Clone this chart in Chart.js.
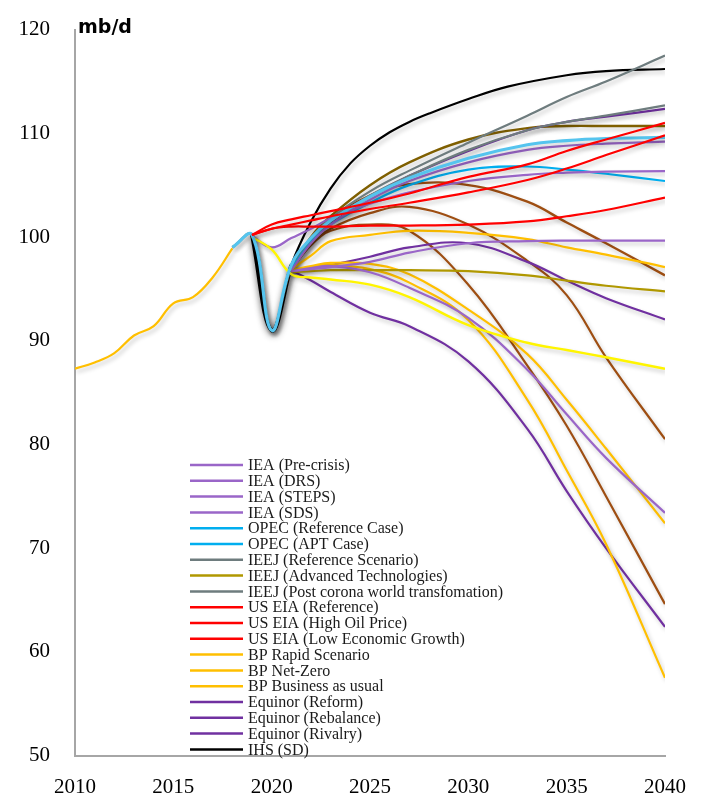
<!DOCTYPE html>
<html>
<head>
<meta charset="utf-8">
<script src="https://cdn.jsdelivr.net/npm/chart.js@4.4.1/dist/chart.umd.min.js"></script>
<style>
html, body { margin: 0; padding: 0; background: #fff; }
#wrap { width: 706px; height: 799px; position: relative; }
</style>
</head>
<body>
<div id="wrap"><canvas id="c"></canvas></div>
<script>
// history (2010-2018)
const histYears = [2010, 2011, 2012, 2013, 2014, 2015, 2016, 2017, 2018];
const history = [87.3, 87.9, 88.8, 90.5, 91.4, 93.6, 94.2, 96.1, 98.9];

// projection years
const years = [2018, 2019, 2020, 2021, 2022, 2023, 2025, 2027, 2030, 2033, 2035, 2037, 2040];

const ieaPreCrisis = [null, 100.1, 99.0, 99.9, 100.8, 101.8, 103.2, 104.3, 105.4, 106.0, 106.2, 106.3, 106.35];
const ieaDrs = [null, null, null, 96.7, 96.9, 97.1, 97.6, 98.5, 99.4, 99.6, 99.65, 99.65, 99.65];
const ieaSteps = [null, null, null, 96.8, 99.4, 101.2, 103.6, 105.4, 107.2, 108.4, 108.8, 109.0, 109.2];
const ieaSds = [null, null, null, 96.7, 97.0, 97.2, 96.6, 95.1, 92.2, 87.2, 82.9, 78.7, 73.4];
const opecRef = [99.0, 100.2, 91.0, 97.3, 99.9, 101.6, 103.9, 105.7, 107.6, 108.9, 109.3, 109.5, 109.6];
const opecApt = [null, null, null, 97.0, 99.5, 101.2, 103.3, 105.0, 106.5, 106.8, 106.5, 106.1, 105.4];
const ieejRef = [null, null, null, 96.9, 99.6, 101.5, 104.0, 105.9, 108.4, 110.3, 111.1, 111.7, 112.7];
const ieejAdv = [null, null, null, 96.6, 96.7, 96.8, 96.8, 96.8, 96.7, 96.3, 95.8, 95.3, 94.75];
const ieejPost = [null, null, null, 97.0, 99.8, 101.8, 104.4, 106.4, 109.1, 111.7, 113.5, 115.0, 117.5];
const eiaRef = [null, 100.2, 100.8, 101.2, 101.6, 102.0, 102.7, 103.3, 104.3, 105.5, 106.6, 107.9, 109.8];
const eiaHighPrice = [null, 100.2, 101.2, 101.7, 102.1, 102.5, 103.3, 104.2, 105.8, 107.0, 108.3, 109.4, 111.0];
const eiaLowGrowth = [null, 100.2, 100.8, 101.0, 101.0, 101.0, 101.1, 101.1, 101.2, 101.5, 102.0, 102.6, 103.8];
const bpRapid = [null, null, null, 96.8, 97.2, 97.5, 97.4, 96.4, 93.0, 88.7, 84.3, 79.6, 72.4];
const bpNetZero = [null, null, null, 96.7, 97.1, 97.3, 96.9, 95.6, 92.0, 84.3, 77.5, 70.4, 57.5];
const bpBau = [null, null, null, 96.9, 98.2, 99.6, 100.2, 100.6, 100.4, 99.8, 99.0, 98.3, 97.1];
const equinorReform = [null, null, null, 96.7, 97.0, 97.3, 98.1, 99.0, 99.4, 97.6, 95.8, 94.1, 92.05];
const equinorRebalance = [null, null, null, 96.8, 95.8, 94.7, 92.7, 91.4, 88.0, 81.5, 75.5, 70.0, 62.4];
const equinorRivalry = [null, null, null, 96.9, 99.5, 101.4, 103.9, 105.9, 108.3, 110.3, 111.1, 111.6, 112.35];

// IHS is read on a finer grid (steep early rise)
const ihsYears = [2019, 2020, 2021, 2022, 2023, 2024, 2025, 2026, 2027, 2028, 2030, 2032, 2035, 2037, 2040];
const ihsSd = [100.2, 91.0, 97.3, 101.5, 104.7, 107.1, 108.8, 110.1, 111.1, 111.9, 113.3, 114.5, 115.6, 116.0, 116.2];

// lines without a legend entry
const brownA = [99.0, 100.2, 91.0, 97.0, 99.9, 101.7, 104.0, 105.1, 105.0, 103.4, 101.4, 99.4, 96.3];
const brownB = [null, null, null, 96.9, 99.3, 100.8, 102.3, 102.9, 101.2, 97.7, 94.4, 88.4, 80.5];
const brownC = [null, null, null, 96.9, 99.2, 100.6, 101.2, 100.6, 95.4, 87.6, 81.8, 75.0, 64.6];
const darkOlive = [null, null, null, 97.0, 100.0, 102.0, 105.0, 107.2, 109.4, 110.5, 110.7, 110.7, 110.7];
const yellowLine = [null, 100.0, 98.8, 96.4, 96.1, 95.9, 95.4, 94.2, 91.5, 89.8, 89.1, 88.4, 87.3];
const dipGlow = [null, 100.2, 91.0, 97.3, null, null, null, null, null, null, null, null, null];

const xTicks = [2010, 2015, 2020, 2025, 2030, 2035, 2040];
const yTicks = [50, 60, 70, 80, 90, 100, 110, 120];

const legendNames = [
  'IEA (Pre-crisis)', 'IEA (DRS)', 'IEA (STEPS)', 'IEA (SDS)',
  'OPEC (Reference Case)', 'OPEC (APT Case)',
  'IEEJ (Reference Scenario)', 'IEEJ (Advanced Technologies)', 'IEEJ (Post corona world transfomation)',
  'US EIA (Reference)', 'US EIA (High Oil Price)', 'US EIA (Low Economic Growth)',
  'BP Rapid Scenario', 'BP Net-Zero', 'BP Business as usual',
  'Equinor (Reform)', 'Equinor (Rebalance)', 'Equinor (Rivalry)',
  'IHS (SD)'
];
const legendSeries = [
  ieaPreCrisis, ieaDrs, ieaSteps, ieaSds,
  opecRef, opecApt,
  ieejRef, ieejAdv, ieejPost,
  eiaRef, eiaHighPrice, eiaLowGrowth,
  bpRapid, bpNetZero, bpBau,
  equinorReform, equinorRebalance, equinorRivalry,
  ihsSd
];

const PURPLE_L = '#9A66C8', CYAN = '#00AEEF', LBLUE = '#55C4EE', GREY = '#6E7C7E',
      OLIVE = '#B09800', RED = '#FF0000', ORANGE = '#FFBF00', PURPLE_D = '#7030A0',
      BROWN = '#9E4E12', DOLIVE = '#7F5F00', YELLOW = '#FFF500';

const legendColors = [
  PURPLE_L, PURPLE_L, PURPLE_L, PURPLE_L,
  CYAN, CYAN,
  GREY, OLIVE, GREY,
  RED, RED, RED,
  ORANGE, ORANGE, ORANGE,
  PURPLE_D, PURPLE_D, PURPLE_D,
  '#000000'
];
// line colour in the plot where it differs from the legend swatch
const plotColors = legendColors.slice();
plotColors[4] = LBLUE;

const pts = (xs, vals) => vals.map((v, i) => ({ x: xs[i], y: v })).filter(p => p.y !== null);

const mk = (label, data, color, width, order, shadow) => ({
  label: label,
  data: data,
  borderColor: color,
  borderWidth: width,
  pointRadius: 0,
  fill: false,
  tension: 0.4,
  order: order,
  shadow: shadow
});

const datasets = [];
datasets.push(mk('glow', pts(years, dipGlow), '#000', 4, 50, 'glow'));
datasets.push(mk('history', pts(histYears, history), ORANGE, 2.2, 10, 'soft'));
datasets.push(mk('brownA', pts(years, brownA), BROWN, 2.4, 9, 'soft'));
datasets.push(mk('brownB', pts(years, brownB), BROWN, 2.2, 9, 'soft'));
datasets.push(mk('brownC', pts(years, brownC), BROWN, 2.2, 9, 'soft'));
datasets.push(mk('darkOlive', pts(years, darkOlive), DOLIVE, 2.4, 8, 'soft'));
datasets.push(mk('yellow', pts(years, yellowLine), YELLOW, 2.4, 2, 'soft'));
legendSeries.forEach((vals, i) => {
  let w = 2.2, ord = 5;
  if (i === 4) { w = 3.2; ord = 1; }
  if (legendColors[i] === RED) ord = 0;
  const xs = vals === ihsSd ? ihsYears : years;
  datasets.push(mk(legendNames[i], pts(xs, vals), plotColors[i], w, ord, 'soft'));
});

const shadowPlugin = {
  id: 'shadowPlugin',
  beforeDatasetDraw(chart, args) {
    const ds = chart.data.datasets[args.index];
    const ctx = chart.ctx;
    ctx.save();
    if (ds.shadow === 'glow') {
      ctx.shadowColor = 'rgba(0,0,0,0.85)';
      ctx.shadowBlur = 7;
      ctx.shadowOffsetX = 1;
      ctx.shadowOffsetY = 2;
    } else {
      ctx.shadowColor = 'rgba(0,0,0,0.22)';
      ctx.shadowBlur = 4;
      ctx.shadowOffsetX = 2;
      ctx.shadowOffsetY = 3;
    }
  },
  afterDatasetDraw(chart) {
    chart.ctx.restore();
  }
};

const legendPlugin = {
  id: 'legendPlugin',
  afterDraw(chart) {
    const ctx = chart.ctx;
    ctx.save();
    // unit label
    ctx.fillStyle = '#000';
    ctx.font = 'bold 19px "DejaVu Sans"';
    ctx.textBaseline = 'alphabetic';
    ctx.textAlign = 'left';
    ctx.fillText('mb/d', 78, 33);
    // legend
    ctx.font = '16px "Liberation Serif"';
    ctx.textBaseline = 'middle';
    const x0 = 190, x1 = 243, tx = 248, yTop = 465, step = 15.8;
    legendNames.forEach((name, i) => {
      const y = yTop + i * step;
      ctx.strokeStyle = legendColors[i];
      ctx.lineWidth = 2.5;
      ctx.beginPath();
      ctx.moveTo(x0, y);
      ctx.lineTo(x1, y);
      ctx.stroke();
      ctx.fillStyle = '#1a1a1a';
      ctx.fillText(name, tx, y + 1);
    });
    ctx.restore();
  }
};

new Chart(document.getElementById('c'), {
  type: 'line',
  data: { datasets: datasets },
  options: {
    responsive: true,
    maintainAspectRatio: false,
    animation: false,
    layout: { padding: { top: 17, right: 41, left: 0, bottom: 0 } },
    plugins: { legend: { display: false }, tooltip: { enabled: false } },
    scales: {
      x: {
        type: 'linear',
        min: 2010,
        max: 2040,
        grid: { display: false },
        border: { display: true, color: '#A6A6A6', width: 2 },
        afterBuildTicks: s => { s.ticks = xTicks.map(v => ({ value: v })); },
        afterFit: s => { s.height = 43.5; },
        ticks: {
          padding: 11,
          color: '#000',
          font: { family: 'Liberation Serif', size: 21 },
          callback: v => String(v),
          maxRotation: 0
        }
      },
      y: {
        min: 50,
        max: 120,
        grid: { display: false },
        border: { display: true, color: '#A6A6A6', width: 2 },
        afterBuildTicks: s => { s.ticks = yTicks.map(v => ({ value: v })); },
        afterFit: s => { s.width = 75; },
        ticks: {
          padding: 17,
          color: '#000',
          font: { family: 'Liberation Serif', size: 21 },
          callback: v => String(v)
        }
      }
    }
  },
  plugins: [shadowPlugin, legendPlugin]
});
</script>
</body>
</html>
